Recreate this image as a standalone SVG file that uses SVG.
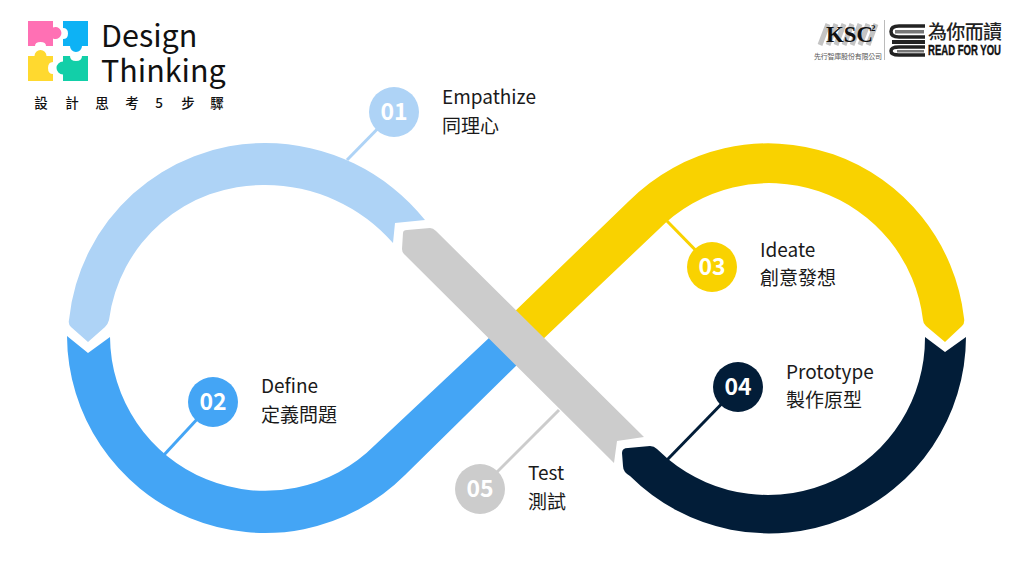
<svg xmlns="http://www.w3.org/2000/svg" width="1024" height="576" viewBox="0 0 1024 576">
<style>
.t,.c{font-family:"Noto Sans CJK TC","Noto Sans",sans-serif;font-size:19px;fill:#1a1a1a}
.n{font-family:"Noto Sans CJK TC","Noto Sans",sans-serif;font-size:23px;font-weight:700;fill:#fff;text-anchor:middle}
.h{font-family:"Noto Sans CJK TC","Noto Sans",sans-serif;font-size:30.500px;fill:#111}
.s{font-family:"Noto Sans CJK TC",sans-serif;font-size:13.500px;font-weight:500;fill:#111;text-anchor:middle}
.l{fill:none;stroke-width:3}
</style>
<rect width="1024" height="576" fill="#fff"/>
<g id="connectors">
<line class="l" x1="347" y1="160" x2="394" y2="112" stroke="#AED3F6"/>
<line class="l" x1="163" y1="456" x2="213" y2="402" stroke="#44A5F5"/>
<line class="l" x1="667" y1="221" x2="712" y2="267" stroke="#F9D200"/>
<line class="l" x1="667" y1="460" x2="738" y2="387" stroke="#021D38"/>
<line class="l" x1="559" y1="410" x2="480" y2="489" stroke="#CCCCCC"/>
</g>
<g id="band-02"><path fill="#44A5F5" d="M67 336L88 353L110 337A155 155 0 0 0 375 445L490 337L520 362L405 475A198 198 0 0 1 67 336Z"/></g>
<g id="band-03"><path fill="#F9D200" d="M510 316L629 201A197 197 0 0 1 964 318Q965 323 962 326L945 342L926 326Q923 323 923 320A155 155 0 0 0 658 230L540 342Z"/></g>
<g id="band-01"><path fill="#AED3F6" d="M71 327Q68 324 69 320A197 197 0 0 1 265 143A205 205 0 0 1 425 220L395 223L393 243A170 170 0 0 0 265 185A155 155 0 0 0 109 320Q108 324 105 327L88 342Z"/></g>
<g id="band-04"><path fill="#021D38" d="M925 337L945 352L966 337A197 197 0 0 1 630 476Q623 472 623 466L622 453Q622 448 628 448L650 446Q654 446 657 449L668 459A157 157 0 0 0 925 337Z"/></g>
<g id="band-05"><path fill="#CCCCCC" d="M403 233Q403 230 407 230L430 228Q433 228 436 231L644 437L617 441L614 463L404 254Q402 252 402 249Z"/></g>
<g id="node-01"><circle cx="394" cy="112" r="25" fill="#AED3F6"/><text class="n" x="394" y="120">01</text><text class="t" x="442" y="104">Empathize</text><text class="c" x="442" y="133">同理心</text></g>
<g id="node-02"><circle cx="213" cy="402" r="25" fill="#44A5F5"/><text class="n" x="213" y="410">02</text><text class="t" x="261" y="393">Define</text><text class="c" x="261" y="422">定義問題</text></g>
<g id="node-03"><circle cx="712" cy="267" r="25" fill="#F9D200"/><text class="n" x="712" y="275">03</text><text class="t" x="760" y="257">Ideate</text><text class="c" x="760" y="285">創意發想</text></g>
<g id="node-04"><circle cx="738" cy="387" r="25" fill="#021D38"/><text class="n" x="738" y="395">04</text><text class="t" x="786" y="379">Prototype</text><text class="c" x="786" y="407">製作原型</text></g>
<g id="node-05"><circle cx="480" cy="489" r="25" fill="#CCCCCC"/><text class="n" x="480" y="497">05</text><text class="t" x="528" y="480">Test</text><text class="c" x="528" y="509">測試</text></g>
<g id="logo-left">
<path fill="#FF70B4" d="M28 21H53V27.500A6 6 0 1 1 53 38.500V46H46Q46 42 40.500 42Q35 42 35 46H28Z"/>
<path fill="#0DB2F5" d="M63 21H88V46H82A6 6 0 1 1 70 46H63V39Q68 39 68 33.500Q68 28 63 28Z"/>
<path fill="#FFD92F" d="M28 56H34.500A6 6 0 1 1 46.500 56H53V62Q48 62 48 68Q48 74 53 74V81H28Z"/>
<path fill="#12CFA8" d="M63 56H70Q70 61 76 61Q82 61 82 56H88V81H63V74.500A6.500 6.500 0 1 1 63 61.500Z"/>
<text class="h" x="101" y="47">Design</text>
<text class="h" x="101" y="82">Thinking</text>
<text class="s" x="41" y="108">設</text><text class="s" x="72" y="108">計</text><text class="s" x="102" y="108">思</text><text class="s" x="132" y="108">考</text><text class="s" x="159" y="108">5</text><text class="s" x="188" y="108">步</text><text class="s" x="217" y="108">驟</text>
</g>
<g id="logo-right">
<path fill="none" stroke="#c4c4c4" stroke-width="5" d="M820 45L828 24M828 45L836 24M836 45L844 24M844 45L852 24M852 45L860 24M860 45L868 24M868 45L876 24"/>
<text x="826" y="42" font-family="'Liberation Serif',serif" font-size="23" font-weight="700" fill="#111" textLength="47" lengthAdjust="spacingAndGlyphs">KSC</text>
<text x="871" y="31" font-family="'Liberation Serif',serif" font-size="9" font-weight="700" fill="#111">2</text>
<text x="814" y="59" font-family="'Noto Sans CJK TC',sans-serif" font-size="7" fill="#555" textLength="68">先行智庫股份有限公司</text>
<line x1="884.500" y1="20" x2="884.500" y2="60" stroke="#bbb"/>
<g fill="none" stroke="#222" stroke-width="3.500"><path d="M925 26H899Q891 26 891 31.500Q891 37 899 37H925"/><path d="M925 47H899Q891 47 891 51Q891 55 899 55H925"/></g>
<rect x="895" y="30" width="29" height="3.500" fill="#777"/><rect x="892" y="40" width="33" height="4" fill="#222"/><rect x="897" y="50" width="27" height="2.500" fill="#777"/>
<text x="928" y="39" font-family="'Noto Sans CJK TC',sans-serif" font-size="19" font-weight="500" fill="#222" textLength="74">為你而讀</text>
<text x="928" y="55" font-family="'Liberation Sans',sans-serif" font-size="15" font-weight="700" fill="#111" stroke="#111" stroke-width=".4" textLength="73" lengthAdjust="spacingAndGlyphs">READ FOR YOU</text>
</g>
</svg>
